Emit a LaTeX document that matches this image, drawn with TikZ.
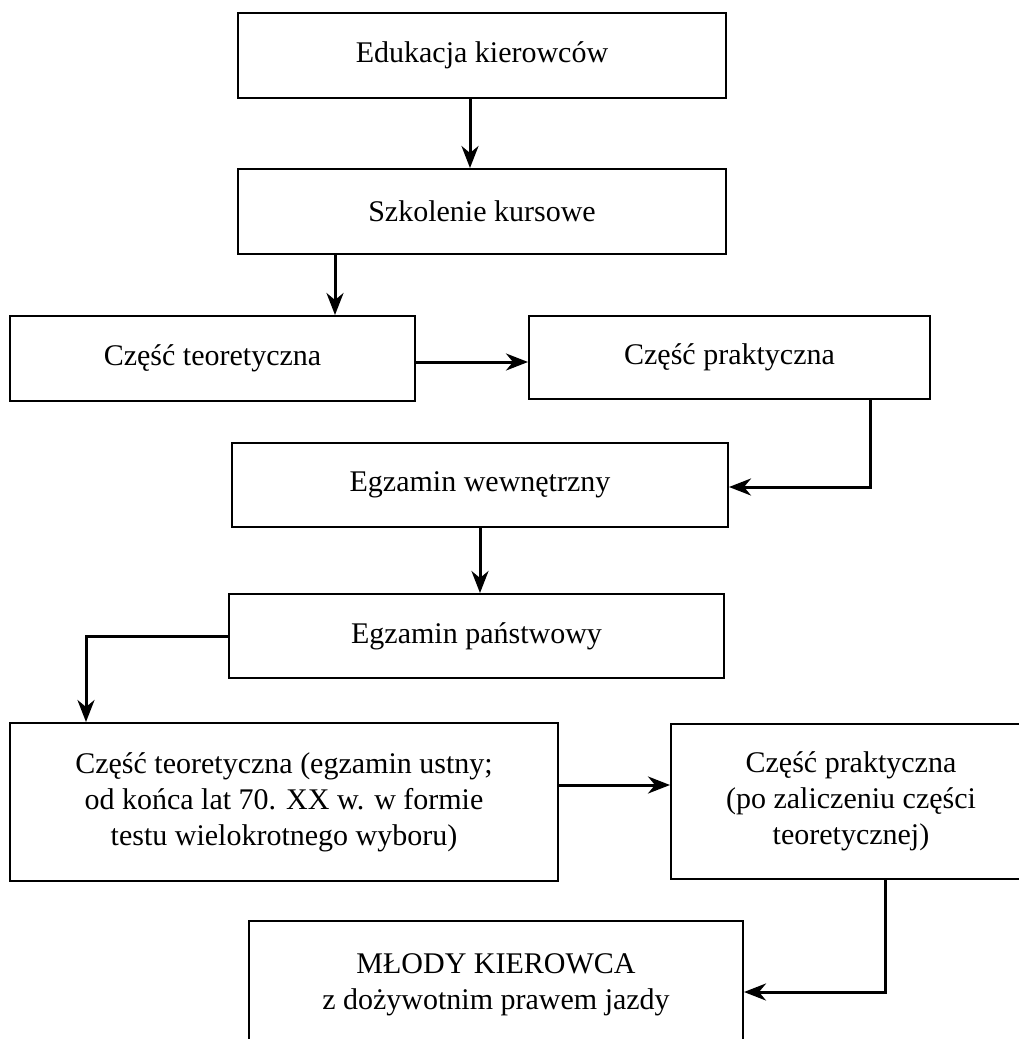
\documentclass[tikz,border=0pt]{standalone}
\usepackage{fontspec}
\setmainfont{Liberation Serif}
\usetikzlibrary{arrows.meta}
\tikzset{
  box/.style={draw, line width=2pt, fill=white, inner sep=0pt, align=center,
    font=\fontsize{30}{36}\selectfont},
  arr/.style={line width=3pt, -{Stealth[length=22pt, width=17pt, inset=7pt]}},
}
\begin{document}
\begin{tikzpicture}[x=1pt, y=-1pt]
\useasboundingbox (0,0) rectangle (1019,1039);
\clip (0,0) rectangle (1019,1039);
\node[box, minimum width=488pt, minimum height=85pt] (b1) at (482,55.5) {Edukacja kierowców};
\node[box, minimum width=488pt, minimum height=85pt] (b2) at (482,211.5) {Szkolenie kursowe};
\node[box, minimum width=405pt, minimum height=85pt] (b3) at (212.5,358.5) {Część teoretyczna};
\node[box, minimum width=401pt, minimum height=83pt] (b4) at (729.5,357.5) {Część praktyczna};
\node[box, minimum width=496pt, minimum height=84pt] (b5) at (480,485) {Egzamin wewnętrzny};
\node[box, minimum width=495pt, minimum height=84pt] (b6) at (476.5,636) {Egzamin państwowy};
\node[box, minimum width=548pt, minimum height=158pt] (b7) at (284,802) {Część teoretyczna (egzamin ustny;\\ od końca lat 70. XX w. w formie\\ testu wielokrotnego wyboru)};
\node[box, minimum width=360pt, minimum height=155pt] (b8) at (851,801.5) {Część praktyczna\\ (po zaliczeniu części\\ teoretycznej)};
\node[box, minimum width=494pt, minimum height=128pt] (b9) at (496,985) {MŁODY KIEROWCA\\ z dożywotnim prawem jazdy};

\draw[arr] ([xshift=-12pt]b1.south) -- ([xshift=-12pt]b2.north);
\draw[arr] ([xshift=-147pt]b2.south) -- ([xshift=-147pt]b2.south |- b3.north);
\draw[arr] ([yshift=-3.5pt]b3.east) -- ([yshift=-3.5pt]b3.east -| b4.west);
\draw[arr] ([xshift=140.5pt]b4.south) |- ([yshift=-2pt]b5.east);
\draw[arr] (b5.south) -- (b5.south |- b6.north);
\draw[arr] (b6.west) -| ([xshift=-198pt]b7.north);
\draw[arr] ([yshift=17pt]b7.east) -- ([yshift=17pt]b7.east -| b8.west);
\draw[arr] ([xshift=34pt]b8.south) |- ([yshift=-7pt]b9.east);
\end{tikzpicture}
\end{document}
